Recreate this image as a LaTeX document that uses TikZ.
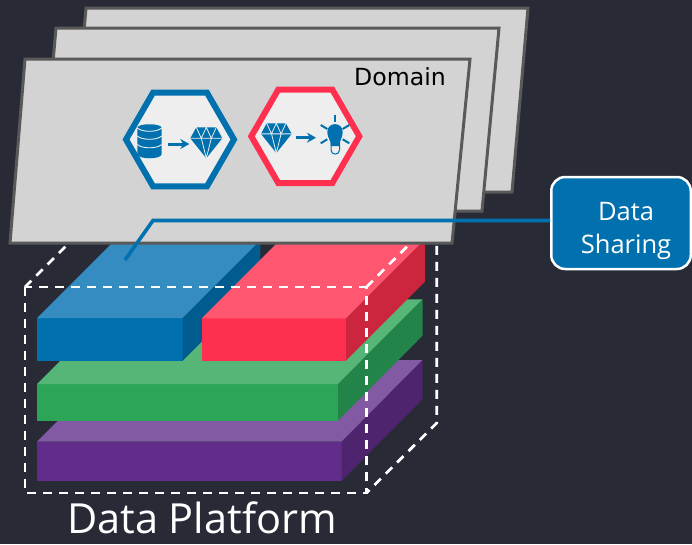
\documentclass[tikz,border=0pt]{standalone}
\usepackage{fontspec}
\setmainfont{Open Sans}
\newfontfamily\domainfont{DejaVu Sans}
\usetikzlibrary{shapes.geometric,arrows.meta}
\definecolor{night}{HTML}{282A36}
\definecolor{sheet}{HTML}{D3D3D3}
\definecolor{sheetedge}{HTML}{595959}
\definecolor{hexfill}{HTML}{EEEEEE}
\definecolor{bluefront}{HTML}{0071AE}
\definecolor{bluetop}{HTML}{358CC0}
\definecolor{blueside}{HTML}{005C8E}
\definecolor{redfront}{HTML}{FF304F}
\definecolor{redtop}{HTML}{FF5770}
\definecolor{redside}{HTML}{CC263F}
\definecolor{greenfront}{HTML}{2CA558}
\definecolor{greentop}{HTML}{56B677}
\definecolor{greenside}{HTML}{23844A}
\definecolor{purplefront}{HTML}{622D8A}
\definecolor{purpletop}{HTML}{8259A3}
\definecolor{purpleside}{HTML}{4E246E}
\tikzset{
  sheetpoly/.style={fill=sheet,draw=sheetedge,line width=3pt,line join=miter},
  cubeline/.style={white,line width=2.7pt,dash pattern=on 9pt off 7pt},
  hexnode/.style={regular polygon,regular polygon sides=6,minimum size=108pt,inner sep=0pt,fill=hexfill,line width=6pt},
  iconarrow/.style={bluefront,line width=3pt,-{Stealth[length=9pt,width=10pt]}},
  raystroke/.style={bluefront,line width=2pt},
  gem/.pic={
    \fill[bluefront] (-10,0) -- (10,0) -- (16,11) -- (0,31) -- (-16,11) -- cycle;
    \draw[hexfill,line width=.8pt] (-16,11) -- (16,11) (-10,0) -- (-5,11) -- (0,0) -- (5,11) -- (10,0) (-5,11) -- (0,31) -- (5,11);
  },
}
\begin{document}
\begin{tikzpicture}[x=1pt,y=-1pt]
\useasboundingbox (0,0) rectangle (692,544);
\fill[night] (0,0) rectangle (692,544);

\fill[purplefront] (37,441.7) rectangle (341.7,480.7);
\fill[purpletop] (37,441.7) -- (118,360) -- (422.7,360) -- (341.7,441.7) -- cycle;
\fill[purpleside] (341.7,441.7) -- (422.7,360) -- (422.7,399) -- (341.7,480.7) -- cycle;

\fill[greenfront] (37,384) rectangle (338,420.7);
\fill[greentop] (37,384) -- (121.7,299.3) -- (422.7,299.3) -- (338,384) -- cycle;
\fill[greenside] (338,384) -- (422.7,299.3) -- (422.7,335.5) -- (338,420.7) -- cycle;

\fill[bluefront] (37,318) rectangle (182.7,360.7);
\fill[bluetop] (37,318) -- (114.5,240.5) -- (260.3,240.5) -- (182.7,318) -- cycle;
\fill[blueside] (182.7,318) -- (260.3,240.5) -- (260.3,283) -- (182.7,360.7) -- cycle;

\fill[redfront] (201.7,318.3) rectangle (346,360.7);
\fill[redtop] (201.7,318.3) -- (280.7,239.3) -- (425,239.3) -- (346,318.3) -- cycle;
\fill[redside] (346,318.3) -- (425,239.3) -- (425,281.7) -- (346,360.7) -- cycle;

\draw[cubeline] (25,287) rectangle (366.5,493);
\draw[cubeline] (25,287) -- (95,217);
\draw[cubeline] (366.5,287) -- (436.7,217) -- (436.7,423) -- (366.5,493);

\draw[sheetpoly] (86,8) -- (528,8) -- (512,192) -- (70,192) -- cycle;
\draw[sheetpoly] (56,28) -- (499,28) -- (482,211) -- (40,211) -- cycle;
\draw[sheetpoly] (25,59) -- (470,59) -- (452,243) -- (10,243) -- cycle;

\node[anchor=base] (domain) at (400,85) {\domainfont\fontsize{23.6}{28}\selectfont Domain};

\node[hexnode,draw=bluefront] (hexdata) at (180,139.5) {};
\node[hexnode,draw=redfront] (hexinsight) at (305.3,136.3) {};

% database
\fill[bluefront] (137.3,128) .. controls (137.3,123) and (161.7,123) .. (161.7,128) -- (161.7,154) .. controls (161.7,159.7) and (137.3,159.7) .. (137.3,154) -- cycle;
\foreach \y in {128,136,144.5}
  \draw[hexfill,line width=.9pt] (137.3,\y) .. controls (142,\y+4.4) and (157,\y+4.4) .. (161.7,\y);

\pic at (206.3,127.3) {gem};
\pic[scale=.96] at (276.3,123.3) {gem};

\coordinate (dbout) at (168.3,144);
\coordinate (gemin) at (189.3,144);
\coordinate (gemout) at (296,137.7);
\coordinate (bulbin) at (316,137.7);
\draw[iconarrow] (dbout) -- (gemin);
\draw[iconarrow] (gemout) -- (bulbin);

% bulb
\draw[bluefront,line width=1pt,fill=hexfill] (331,143) -- (331,150) .. controls (331,155.5) and (339.5,155.5) .. (339.5,150) -- (339.5,143);
\fill[bluefront] (331,146) .. controls (331,140) and (327.3,138) .. (327.3,132) .. controls (327.3,121.5) and (342.7,121.5) .. (342.7,132) .. controls (342.7,138) and (339.5,140) .. (339.5,146) -- cycle;
\draw[raystroke] (335,115) -- (335,121.7);
\draw[raystroke] (320.7,125) -- (327.3,129);
\draw[raystroke] (349.3,125) -- (342.7,129);
\draw[raystroke] (320.7,143.3) -- (327.3,139.3);
\draw[raystroke] (349.3,143.3) -- (342.7,139.3);

\node[draw=white,fill=bluefront,rounded corners=14pt,line width=2.5pt,minimum width=139.5pt,minimum height=92pt,inner sep=0pt,align=center,text=white,font=\fontsize{25.5}{32.5}\selectfont] (share) at (621,223) {\hspace*{10pt}\rule{0pt}{34pt}Data\\\hspace*{10pt}Sharing};

\coordinate (tap) at (125,260);
\coordinate (bend) at (153,220.5);
\draw[bluefront,line width=3.6pt] (tap) -- (bend) -- (bend -| share.west);

\node[anchor=base,white,inner sep=0pt,font=\fontsize{41.5}{48}\selectfont] (platform) at (202,533) {Data Platform};
\end{tikzpicture}
\end{document}
